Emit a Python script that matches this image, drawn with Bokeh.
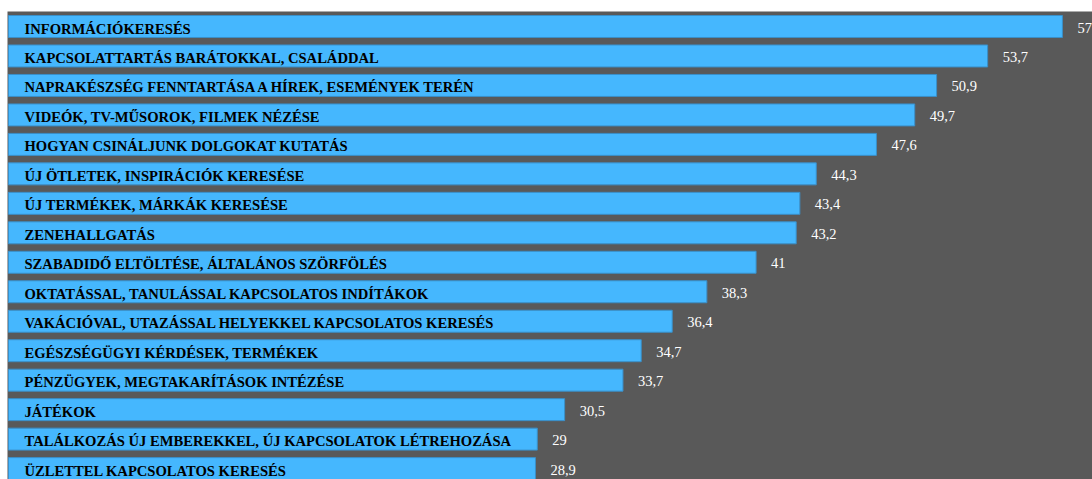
from bokeh.plotting import figure
from bokeh.models import ColumnDataSource, Range1d
from bokeh.core.properties import value
from bokeh.embed import file_html
from bokeh.resources import INLINE

categories = [
    "INFORMÁCIÓKERESÉS",
    "KAPCSOLATTARTÁS BARÁTOKKAL, CSALÁDDAL",
    "NAPRAKÉSZSÉG FENNTARTÁSA A HÍREK, ESEMÉNYEK TERÉN",
    "VIDEÓK, TV-MŰSOROK, FILMEK NÉZÉSE",
    "HOGYAN CSINÁLJUNK DOLGOKAT KUTATÁS",
    "ÚJ ÖTLETEK, INSPIRÁCIÓK KERESÉSE",
    "ÚJ TERMÉKEK, MÁRKÁK KERESÉSE",
    "ZENEHALLGATÁS",
    "SZABADIDŐ ELTÖLTÉSE, ÁLTALÁNOS SZÖRFÖLÉS",
    "OKTATÁSSAL, TANULÁSSAL KAPCSOLATOS INDÍTÁKOK",
    "VAKÁCIÓVAL, UTAZÁSSAL HELYEKKEL KAPCSOLATOS KERESÉS",
    "EGÉSZSÉGÜGYI KÉRDÉSEK, TERMÉKEK",
    "PÉNZÜGYEK, MEGTAKARÍTÁSOK INTÉZÉSE",
    "JÁTÉKOK",
    "TALÁLKOZÁS ÚJ EMBEREKKEL, ÚJ KAPCSOLATOK LÉTREHOZÁSA",
    "ÜZLETTEL KAPCSOLATOS KERESÉS",
]
values = [57.8, 53.7, 50.9, 49.7, 47.6, 44.3, 43.4, 43.2, 41.0, 38.3, 36.4, 34.7, 33.7, 30.5, 29.0, 28.9]
value_labels = ["57,8", "53,7", "50,9", "49,7", "47,6", "44,3", "43,4", "43,2", "41", "38,3",
                "36,4", "34,7", "33,7", "30,5", "29", "28,9"]

idx = list(range(len(categories)))
src = ColumnDataSource(dict(y=idx, v=values, cat=categories, lab=value_labels,
                            zero=[0] * len(idx)))

GRAY = "#595959"
p = figure(width=1092, height=479, output_backend="svg", toolbar_location=None,
           x_range=Range1d(-0.055, 59.45), y_range=Range1d(15.37, -0.509),
           min_border_left=7, min_border_right=0, min_border_top=11, min_border_bottom=0)
p.background_fill_color = GRAY
p.border_fill_color = "white"
p.outline_line_color = None
p.xaxis.visible = False
p.yaxis.visible = False
p.xgrid.visible = False
p.ygrid.visible = False

p.hbar(y="y", left=0, right="v", height=0.746, source=src,
       fill_color="#45b7fe", line_color="#3a8fc8", line_width=1)

p.text(x="zero", y="y", text="cat", source=src, x_offset=16, y_offset=2,
       text_font=value("Liberation Serif"), text_font_style="bold",
       text_font_size="14.6px", text_color="black", text_baseline="middle")

p.text(x="v", y="y", text="lab", source=src, x_offset=15, y_offset=1,
       text_font=value("Liberation Serif"), text_font_size="14.5px",
       text_color="white", text_baseline="middle")

open("out.html", "w").write(file_html(p, INLINE))
